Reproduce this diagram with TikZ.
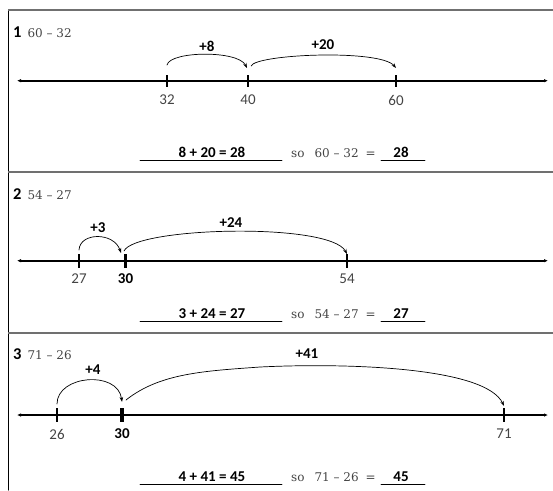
\documentclass[tikz,border=0pt]{standalone}
\usepackage{fontspec}
\setmainfont{DejaVu Serif}
\setsansfont{Carlito}
\usetikzlibrary{arrows.meta}

\begin{document}
\begin{tikzpicture}[x=1pt, y=-1pt, >=Latex, line cap=round, line join=round,
    numline/.style={line width=2pt, {Latex[length=4pt,width=3.5pt]}-{Latex[length=4pt,width=3.5pt]}},
    tickmark/.style={line width=1.8pt, line cap=butt},
    boldtick/.style={line width=3.2pt, line cap=butt},
    ticklab/.style={inner sep=0pt, text=txtgray, font=\sffamily\fontsize{15}{17}\selectfont},
    boldlab/.style={inner sep=0pt, font=\sffamily\bfseries\fontsize{15}{17}\selectfont},
    jump/.style={line width=0.7pt, -{Stealth[length=5pt,width=3.5pt]}},
    jumplab/.style={inner sep=0pt, font=\sffamily\bfseries\fontsize{15}{17}\selectfont},
    head/.style={anchor=base west, inner sep=0pt, font=\sffamily\bfseries\fontsize{16.5}{18}\selectfont},
    sumtext/.style={anchor=base, inner sep=0pt, font=\sffamily\bfseries\fontsize{15}{17}\selectfont},
    sotext/.style={anchor=base west, inner sep=0pt, text=txtgray, font=\rmfamily\fontsize{12}{14}\selectfont},
    blank/.style={line width=0.6pt}]
    \definecolor{txtgray}{HTML}{444444}
    \definecolor{framegray}{HTML}{707070}

    \useasboundingbox (0, 0) rectangle (553, 490);

    % --- the frame and the two rules between the questions
    \draw[line width=1pt] (8, 490) -- (8, 10);
    \foreach \top in {10, 172, 333} {
      \draw[framegray, line width=1.5pt, line cap=butt] (8, \top) -- (553, \top);
    }

    % --- question 1: 60 - 32
    \node[head] (h1) at (13, 37) {1\hspace{6pt}{\rmfamily\mdseries\fontsize{12}{14}\selectfont\color{txtgray}60 -- 32}};
    \coordinate (L1) at (17, 80.7);
    \coordinate (R1) at (548, 80.7);
    \draw[numline] (L1) -- (R1);
    \foreach \v/\x in {32/167, 40/248, 60/396} {
      \draw[tickmark] (\x, 75) -- (\x, 87);
      \node[ticklab] (n1-\v) at (\x, 100) {\v};
    }
    \coordinate (a1s) at (167, 65);
    \coordinate (a1m) at (247, 68);
    \coordinate (b1s) at (251, 66);
    \coordinate (b1e) at (396, 68);
    \draw[jump] (a1s) .. controls (170, 51) and (238, 50) .. (a1m);
    \draw[jump] (b1s) .. controls (256, 54) and (380, 49) .. (b1e);
    \node[jumplab] (j1a) at (207, 46) {+8};
    \node[jumplab] (j1b) at (323, 45) {+20};
    \draw[blank] (140, 160.5) -- (282, 160.5);
    \node[sumtext] (sum1) at (212, 157) {8 + 20 = 28};
    \node[sotext] (so1) at (291, 157) {so\hspace{10pt}60 -- 32\hspace{7pt}=};
    \draw[blank] (381, 160.5) -- (425, 160.5);
    \node[sumtext] (ans1) at (401, 157) {28};

    % --- question 2: 54 - 27
    \node[head] (h2) at (13, 199) {2\hspace{6pt}{\rmfamily\mdseries\fontsize{12}{14}\selectfont\color{txtgray}54 -- 27}};
    \coordinate (L2) at (17, 260.7);
    \coordinate (R2) at (548, 260.7);
    \draw[numline] (L2) -- (R2);
    \foreach \v/\x in {27/79, 54/347} {
      \draw[tickmark] (\x, 254) -- (\x, 268);
      \node[ticklab] (n2-\v) at (\x, 279) {\v};
    }
    \draw[boldtick] (125.5, 254) -- (125.5, 268);
    \node[boldlab] (n2-30) at (125.5, 279) {30};
    \coordinate (a2s) at (79, 250);
    \coordinate (a2m) at (121, 253);
    \coordinate (b2s) at (124, 251);
    \coordinate (b2e) at (347, 254);
    \draw[jump] (a2s) .. controls (80, 232) and (114, 232) .. (a2m);
    \draw[jump] (b2s) .. controls (135, 227) and (330, 222) .. (b2e);
    \node[jumplab] (j2a) at (98, 228) {+3};
    \node[jumplab] (j2b) at (231, 223) {+24};
    \draw[blank] (140, 321.5) -- (282, 321.5);
    \node[sumtext] (sum2) at (212, 318) {3 + 24 = 27};
    \node[sotext] (so2) at (291, 318) {so\hspace{10pt}54 -- 27\hspace{7pt}=};
    \draw[blank] (381, 321.5) -- (425, 321.5);
    \node[sumtext] (ans2) at (401, 318) {27};

    % --- question 3: 71 - 26
    \node[head] (h3) at (13, 359) {3\hspace{6pt}{\rmfamily\mdseries\fontsize{12}{14}\selectfont\color{txtgray}71 -- 26}};
    \coordinate (L3) at (17, 415);
    \coordinate (R3) at (548, 415);
    \draw[numline] (L3) -- (R3);
    \foreach \v/\x in {26/57, 71/504} {
      \draw[tickmark] (\x, 408) -- (\x, 422);
      \node[ticklab] (n3-\v) at (\x, 434) {\v};
    }
    \draw[boldtick] (122, 408) -- (122, 422);
    \node[boldlab] (n3-30) at (122, 434) {30};
    \coordinate (a3s) at (57, 404);
    \coordinate (a3m) at (122, 402);
    \coordinate (b3s) at (126, 400);
    \coordinate (b3e) at (504, 406);
    \draw[jump] (a3s) .. controls (57, 375) and (118, 370) .. (a3m);
    \draw[jump] (b3s) .. controls (160, 373) and (205, 371) .. (260, 367)
      .. controls (340, 363) and (485, 366) .. (b3e);
    \node[jumplab] (j3a) at (93, 370) {+4};
    \node[jumplab] (j3b) at (307, 354) {+41};
    \draw[blank] (140, 484.5) -- (282, 484.5);
    \node[sumtext] (sum3) at (212, 481) {4 + 41 = 45};
    \node[sotext] (so3) at (291, 481) {so\hspace{10pt}71 -- 26\hspace{7pt}=};
    \draw[blank] (381, 484.5) -- (425, 484.5);
    \node[sumtext] (ans3) at (401, 481) {45};
  \end{tikzpicture}
\end{document}
